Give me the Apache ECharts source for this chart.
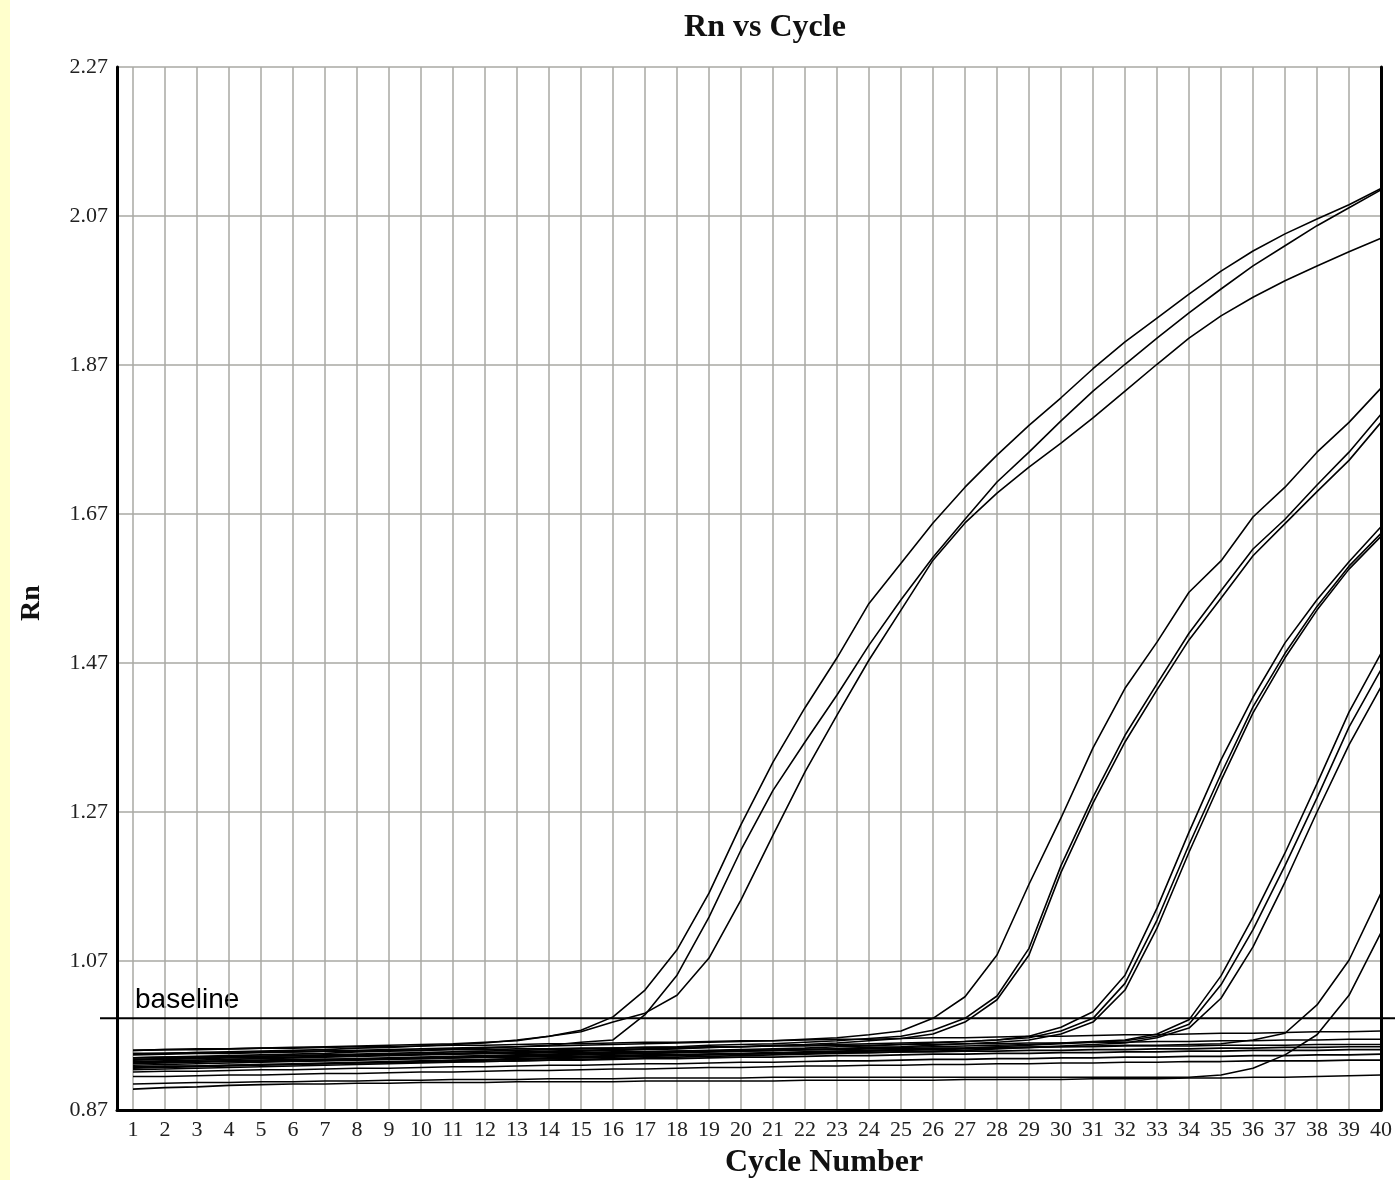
<!DOCTYPE html>
<html>
<head>
<meta charset="utf-8">
<script src="https://cdn.jsdelivr.net/npm/echarts@6/dist/echarts.min.js"></script>
<style>
html,body{margin:0;padding:0;background:#fff;}
#chart{width:1395px;height:1180px;}
</style>
</head>
<body>
<div id="chart"></div>
<script>
const cycles = [1,2,3,4,5,6,7,8,9,10,11,12,13,14,15,16,17,18,19,20,21,22,23,24,25,26,27,28,29,30,31,32,33,34,35,36,37,38,39,40];
const yTicks = [0.87,1.07,1.27,1.47,1.67,1.87,2.07,2.27];
const baselineValue = 0.993;

const A1 = [0.950,0.951,0.952,0.952,0.953,0.954,0.955,0.956,0.957,0.958,0.959,0.961,0.963,
  0.969,0.977,0.995,1.031,1.085,1.161,1.253,1.337,1.410,1.477,1.550,1.604,1.658,1.706,1.749,1.789,1.826,1.865,1.901,1.933,1.965,1.996,2.023,2.046,2.066,2.085,2.107];
const A2 = [0.940,0.941,0.942,0.943,0.944,0.945,0.946,0.948,0.949,0.950,0.952,0.953,0.955,0.957,
  0.961,0.964,0.998,1.051,1.129,1.219,1.299,1.364,1.427,1.494,1.555,1.612,1.663,1.713,1.753,1.795,1.835,1.871,1.906,1.940,1.972,2.003,2.030,2.057,2.081,2.105];
const A3 = [0.945,0.946,0.947,0.948,0.949,0.950,0.951,0.953,0.954,0.956,0.958,0.960,
  0.964,0.969,0.975,0.988,1.000,1.024,1.074,1.152,1.239,1.324,1.400,1.474,1.541,1.608,1.658,1.698,1.733,1.765,1.799,1.835,1.871,1.906,1.936,1.961,1.983,2.003,2.022,2.040];
const B1 = [0.944,0.945,0.946,0.946,0.947,0.948,0.949,0.950,0.951,0.952,0.953,0.954,0.955,0.956,0.957,0.958,0.959,0.960,0.961,0.962,0.963,0.965,0.967,
  0.971,0.976,0.993,1.022,1.078,1.173,1.262,1.356,1.436,1.498,1.565,1.607,1.666,1.706,1.753,1.793,1.839];
const B2 = [0.938,0.939,0.940,0.941,0.942,0.943,0.944,0.945,0.946,0.947,0.948,0.949,0.950,0.951,0.952,0.953,0.954,0.955,0.957,0.958,0.959,0.961,0.963,0.966,
  0.969,0.977,0.993,1.023,1.087,1.198,1.290,1.373,1.442,1.510,1.567,1.623,1.663,1.709,1.753,1.804];
const B3 = [0.935,0.936,0.937,0.938,0.939,0.940,0.941,0.942,0.943,0.944,0.945,0.946,0.947,0.948,0.949,0.950,0.951,0.952,0.954,0.955,0.957,0.958,0.960,0.963,0.966,
  0.972,0.988,1.018,1.078,1.189,1.282,1.364,1.434,1.501,1.557,1.614,1.657,1.700,1.742,1.793];
const C1 = [0.937,0.938,0.939,0.940,0.940,0.941,0.942,0.943,0.944,0.945,0.946,0.947,0.948,0.949,0.950,0.951,0.952,0.953,0.954,0.955,0.956,0.957,0.958,0.959,0.960,0.961,0.962,
  0.964,0.969,0.981,1.002,1.051,1.141,1.243,1.340,1.424,1.497,1.555,1.606,1.653];
const C2 = [0.933,0.934,0.935,0.936,0.937,0.938,0.938,0.939,0.940,0.941,0.942,0.943,0.944,0.945,0.946,0.947,0.948,0.949,0.950,0.951,0.952,0.953,0.955,0.956,0.958,0.960,0.962,0.964,
  0.967,0.976,0.993,1.040,1.125,1.226,1.321,1.411,1.483,1.546,1.600,1.644];
const C3 = [0.930,0.931,0.932,0.933,0.934,0.935,0.936,0.937,0.938,0.939,0.940,0.941,0.942,0.943,0.944,0.945,0.946,0.947,0.948,0.949,0.950,0.951,0.952,0.954,0.955,0.957,0.959,0.961,
  0.964,0.972,0.988,1.031,1.114,1.216,1.312,1.403,1.477,1.541,1.596,1.640];
const D1 = [0.932,0.933,0.934,0.935,0.935,0.936,0.937,0.938,0.939,0.940,0.941,0.942,0.943,0.944,0.945,0.946,0.946,0.947,0.948,0.949,0.950,0.951,0.952,0.953,0.954,0.955,0.956,0.957,0.958,0.960,0.962,
  0.964,0.972,0.991,1.050,1.129,1.215,1.308,1.404,1.483];
const D2 = [0.927,0.928,0.929,0.930,0.931,0.932,0.933,0.934,0.935,0.936,0.937,0.938,0.939,0.940,0.941,0.942,0.943,0.944,0.945,0.946,0.947,0.948,0.949,0.950,0.951,0.952,0.953,0.955,0.957,0.959,0.961,
  0.963,0.969,0.985,1.038,1.112,1.198,1.289,1.384,1.461];
const D3 = [0.924,0.925,0.926,0.927,0.928,0.929,0.930,0.931,0.932,0.933,0.934,0.935,0.936,0.937,0.938,0.939,0.940,0.941,0.942,0.943,0.944,0.945,0.946,0.947,0.948,0.949,0.950,0.952,0.954,0.956,0.958,
  0.960,0.967,0.980,1.020,1.089,1.176,1.270,1.360,1.438];
const E1 = [0.926,0.927,0.928,0.929,0.930,0.931,0.932,0.933,0.934,0.935,0.936,0.937,0.938,0.939,0.940,0.941,0.942,0.943,0.944,0.945,0.946,0.947,0.948,0.949,0.950,0.951,0.952,0.953,0.954,0.955,0.956,0.957,0.957,0.958,0.959,
  0.964,0.973,1.011,1.071,1.161];
const E2 = [0.905,0.906,0.907,0.907,0.908,0.908,0.909,0.909,0.910,0.910,0.911,0.911,0.911,0.912,0.912,0.912,0.913,0.913,0.913,0.913,0.914,0.914,0.914,0.914,0.914,0.914,0.914,0.914,0.914,0.914,0.914,0.914,0.914,
  0.914,0.917,0.926,0.944,0.971,1.024,1.108];
const F1 = [0.950,0.951,0.951,0.952,0.953,0.953,0.954,0.955,0.955,0.956,0.957,0.957,0.958,0.959,0.959,0.960,0.961,0.961,0.962,0.963,
  0.963,0.964,0.965,0.965,0.966,0.967,0.967,0.968,0.969,0.969,0.970,0.971,0.971,0.972,0.973,0.973,0.974,0.975,0.975,0.976];
const F2 = [0.946,0.946,0.947,0.947,0.948,0.948,0.949,0.949,0.950,0.950,0.951,0.951,0.952,0.952,0.953,0.953,0.954,0.954,0.955,0.955,
  0.956,0.956,0.957,0.957,0.958,0.958,0.959,0.959,0.960,0.960,0.961,0.961,0.962,0.962,0.963,0.963,0.964,0.964,0.965,0.965];
const F3 = [0.940,0.941,0.941,0.942,0.942,0.943,0.943,0.944,0.944,0.945,0.945,0.946,0.946,0.947,0.947,0.948,0.948,0.949,0.949,0.950,
  0.950,0.951,0.951,0.952,0.952,0.953,0.953,0.954,0.954,0.955,0.955,0.956,0.956,0.956,0.957,0.957,0.957,0.958,0.958,0.958];
const F4 = [0.934,0.935,0.935,0.936,0.936,0.937,0.938,0.938,0.939,0.939,0.940,0.941,0.941,0.942,0.942,0.943,0.944,0.944,0.945,0.945,
  0.946,0.946,0.947,0.947,0.948,0.948,0.949,0.949,0.950,0.950,0.951,0.951,0.952,0.952,0.953,0.953,0.954,0.954,0.955,0.955];
const F5 = [0.928,0.929,0.929,0.930,0.931,0.931,0.932,0.933,0.933,0.934,0.935,0.935,0.936,0.937,0.937,0.938,0.939,0.939,0.940,0.941,
  0.941,0.942,0.943,0.943,0.944,0.945,0.945,0.946,0.946,0.947,0.947,0.948,0.948,0.949,0.949,0.950,0.950,0.950,0.951,0.951];
const F6 = [0.921,0.922,0.922,0.923,0.924,0.924,0.925,0.926,0.926,0.927,0.928,0.928,0.929,0.930,0.930,0.931,0.932,0.932,0.933,0.934,
  0.934,0.935,0.936,0.936,0.937,0.938,0.938,0.939,0.939,0.940,0.940,0.941,0.941,0.942,0.942,0.943,0.943,0.944,0.944,0.945];
const F7 = [0.915,0.915,0.916,0.917,0.917,0.918,0.919,0.919,0.920,0.921,0.921,0.922,0.923,0.923,0.924,0.925,0.925,0.926,0.927,0.927,
  0.928,0.929,0.929,0.930,0.930,0.931,0.931,0.932,0.932,0.933,0.933,0.934,0.934,0.935,0.935,0.936,0.936,0.936,0.937,0.937];
const F8 = [0.898,0.900,0.901,0.903,0.904,0.905,0.905,0.906,0.906,0.907,0.907,0.907,0.908,0.908,0.908,0.908,0.909,0.909,0.909,0.909,
  0.909,0.910,0.910,0.910,0.910,0.910,0.911,0.911,0.911,0.911,0.912,0.912,0.912,0.913,0.913,0.914,0.914,0.915,0.916,0.917];

const wells = [F8,E2,F7,F6,F5,F4,F3,F2,F1,E1,D3,D2,D1,C3,C2,C1,B3,B2,B1,A3,A2,A1];

const chart = echarts.init(document.getElementById('chart'), null, {renderer:'canvas'});
const serif = '"Liberation Serif", "Times New Roman", serif';
const gridColor = '#a9a9a3';

const series = wells.map(arr => ({
  type:'line', xAxisIndex:0, yAxisIndex:0,
  data: cycles.map((c,i) => [c, arr[i]]),
  showSymbol:false, silent:true,
  lineStyle:{color:'#000', width:1.6}
}));
series.push({
  type:'line', xAxisIndex:1, yAxisIndex:2,
  data:[[0, baselineValue],[1, baselineValue]],
  showSymbol:false, silent:true, z:5,
  lineStyle:{color:'#000', width:2}
});

chart.setOption({
  animation:false,
  backgroundColor:'#ffffff',
  grid:[
    {left:117, right:11, top:67, bottom:70},
    {left:100, right:0, top:67, bottom:70}
  ],
  xAxis:[
    {type:'value', gridIndex:0, min:0.5, max:40,
     axisLine:{show:true, onZero:false, lineStyle:{color:'#000', width:3}},
     axisTick:{show:false, customValues:cycles},
     axisLabel:{customValues:cycles, fontFamily:serif, fontSize:22, color:'#222', margin:9},
     splitLine:{show:true, lineStyle:{color:gridColor, width:1.5}}},
    {type:'value', gridIndex:1, min:0, max:1, show:false}
  ],
  yAxis:[
    {type:'value', gridIndex:0, min:0.87, max:2.27,
     axisLine:{show:true, onZero:false, lineStyle:{color:'#000', width:3}},
     axisTick:{show:false, customValues:yTicks},
     axisLabel:{customValues:yTicks, formatter:v => v.toFixed(2), fontFamily:serif, fontSize:22, color:'#222', margin:9},
     splitLine:{show:true, lineStyle:{color:gridColor, width:1.5}}},
    {type:'value', gridIndex:0, position:'right', min:0.87, max:2.27,
     axisLine:{show:true, onZero:false, lineStyle:{color:'#000', width:3}},
     axisTick:{show:false}, axisLabel:{show:false}, splitLine:{show:false}},
    {type:'value', gridIndex:1, min:0.87, max:2.27, show:false}
  ],
  graphic:[
    {type:'rect', shape:{x:0, y:0, width:10, height:1180}, style:{fill:'#ffffcc'}, z:-1},
    {type:'text', x:765, y:28, style:{text:'Rn vs Cycle', font:'bold 32px ' + serif, fill:'#111', align:'center', verticalAlign:'middle'}},
    {type:'text', x:824, y:1163, style:{text:'Cycle Number', font:'bold 32px ' + serif, fill:'#111', align:'center', verticalAlign:'middle'}},
    {type:'text', x:32, y:603, rotation:Math.PI/2, style:{text:'Rn', font:'bold 28px ' + serif, fill:'#111', align:'center', verticalAlign:'middle'}},
    {type:'text', x:135, y:1000, style:{text:'baseline', font:'28px "Liberation Sans", Arial, sans-serif', fill:'#000', align:'left', verticalAlign:'middle'}}
  ],
  series: series
});
</script>
</body>
</html>
